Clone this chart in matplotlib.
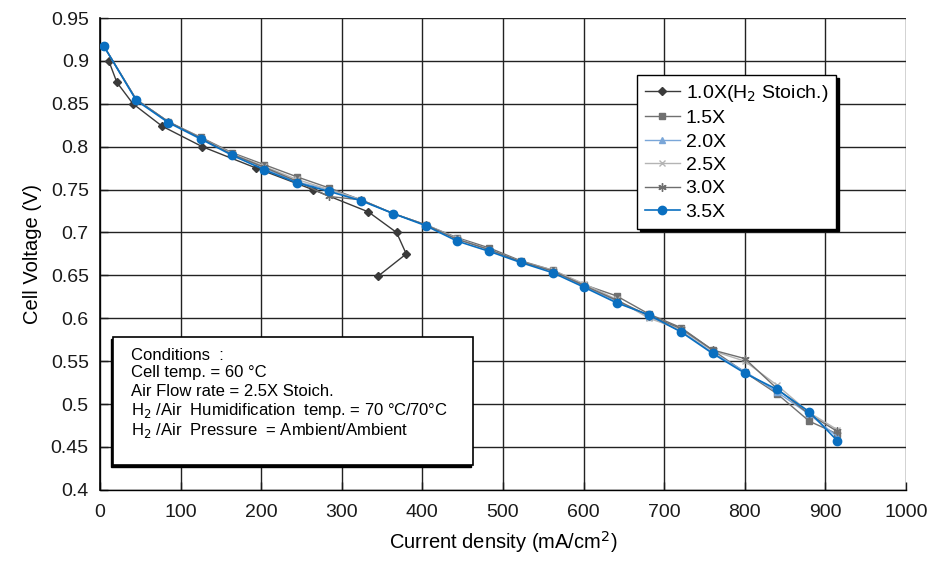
import matplotlib
matplotlib.use("Agg")
import matplotlib.pyplot as plt
from matplotlib.patches import Rectangle
from matplotlib.ticker import FuncFormatter, MultipleLocator

plt.rcParams["font.family"] = ["Liberation Sans", "DejaVu Sans"]

# 1.0X runs on its own current steps (it turns back at the end)
x_10 = [11, 21, 41, 77, 127, 194, 264, 333, 368, 380, 345]
v_10 = [0.900, 0.875, 0.850, 0.824, 0.800, 0.775, 0.750, 0.724, 0.700, 0.675, 0.649]

# common current steps for the other stoichiometries
x_all = [5, 45, 85, 125, 164, 204, 244, 284, 324, 364, 404, 443,
         483, 522, 562, 601, 641, 681, 721, 760, 800, 840, 880, 915]
v_15 = [0.917, 0.855, 0.829, 0.811, 0.793, 0.779, 0.765, 0.752, 0.738, 0.722, 0.709, 0.694,
        0.682, 0.667, 0.656, 0.639, 0.626, 0.605, 0.589, 0.563, 0.537, 0.512, 0.480, 0.465]
v_20 = [0.917, 0.855, 0.829, 0.810, 0.791, 0.775, 0.759, 0.750, 0.738, 0.722, 0.709, 0.693,
        0.680, 0.666, 0.655, 0.637, 0.620, 0.602, 0.585, 0.560, 0.538, 0.514, 0.488, 0.462]
v_25 = [0.917, 0.855, 0.829, 0.810, 0.792, 0.777, 0.762, 0.750, 0.738, 0.722, 0.709, 0.693,
        0.680, 0.666, 0.656, 0.640, 0.622, 0.600, 0.587, 0.562, 0.550, 0.522, 0.490, 0.470]
v_30 = [0.917, 0.855, 0.829, 0.810, 0.791, 0.776, 0.760, 0.742, 0.738, 0.722, 0.709, 0.692,
        0.680, 0.666, 0.655, 0.638, 0.621, 0.603, 0.588, 0.563, 0.553, 0.518, 0.488, 0.468]
v_35 = [0.917, 0.854, 0.828, 0.809, 0.790, 0.773, 0.758, 0.748, 0.737, 0.722, 0.708, 0.690,
        0.678, 0.665, 0.653, 0.636, 0.618, 0.604, 0.584, 0.559, 0.536, 0.517, 0.491, 0.457]

labels = ["1.0X(H$_2$ Stoich.)", "1.5X", "2.0X", "2.5X", "3.0X", "3.5X"]

conditions = [
    "Conditions  :",
    "Cell temp. = 60 \u00b0C",
    "Air Flow rate = 2.5X Stoich.",
    "H$_2$ /Air  Humidification  temp. = 70 \u00b0C/70\u00b0C",
    "H$_2$ /Air  Pressure  = Ambient/Ambient",
]

fig = plt.figure(figsize=(9.34, 5.63), dpi=100)
ax = fig.add_axes([0.107, 0.130, 0.863, 0.838])

ax.plot(x_10, v_10, color="#3a3a3a", lw=1.0, marker="D", ms=4, label=labels[0], zorder=3)
ax.plot(x_all, v_15, color="#707070", lw=1.0, marker="s", ms=5, label=labels[1], zorder=3)
ax.plot(x_all, v_20, color="#7aa6d8", lw=1.0, marker="^", ms=5, label=labels[2], zorder=3)
ax.plot(x_all, v_25, color="#b4b4b4", lw=1.0, marker="x", ms=5, label=labels[3], zorder=3)
ax.plot(x_all, v_30, color="#6e6e6e", lw=1.0, marker=(6, 2, 0), ms=6, label=labels[4], zorder=3)
ax.plot(x_all, v_35, color="#0a6fc0", lw=1.2, marker="o", ms=6, label=labels[5], zorder=4)

ax.set_xlim(0, 1000)
ax.set_ylim(0.4, 0.95)
ax.xaxis.set_major_locator(MultipleLocator(100))
ax.yaxis.set_major_locator(MultipleLocator(0.05))
ax.yaxis.set_major_formatter(FuncFormatter(lambda v, p: "%g" % round(v, 2)))
ax.grid(True, color="#222222", lw=1.0)
ax.set_axisbelow(True)
for s in ["top", "right"]:
    ax.spines[s].set_visible(False)
ax.spines["left"].set_linewidth(1.2)
ax.spines["bottom"].set_linewidth(1.0)
ax.tick_params(labelsize=14, length=6, width=1, direction="in", colors="#1a1a1a")
ax.tick_params(axis="y", pad=8)
ax.tick_params(axis="x", pad=10)
ax.set_xlabel("Current density (mA/cm$^2$)", fontsize=14.5, labelpad=6)
ax.set_ylabel("Cell Voltage (V)", fontsize=14.5, labelpad=6)

leg = ax.legend(loc="upper left", bbox_to_anchor=(0.682, 0.867),
                bbox_transform=fig.transFigure, fontsize=14, frameon=True,
                fancybox=False, edgecolor="black", framealpha=1,
                shadow={"color": "black", "alpha": 1}, handlelength=1.8,
                handletextpad=0.3, borderpad=0.4, labelspacing=0.3,
                borderaxespad=0)
leg.get_frame().set_linewidth(1.0)

# conditions box, with its shadow to the lower left
shadow = Rectangle((0.121 - 2 / 934, 0.174 - 2 / 563), 0.385, 0.227,
                   transform=fig.transFigure, facecolor="black",
                   edgecolor="black", lw=1.0, zorder=5)
box = Rectangle((0.121, 0.174), 0.385, 0.227, transform=fig.transFigure,
                facecolor="white", edgecolor="black", lw=1.2, zorder=5)
fig.patches.append(shadow)
fig.patches.append(box)
ys = [355, 373, 391, 410, 431]
for t, yp in zip(conditions, ys):
    fig.text(131 / 934, 1 - yp / 563, t, fontsize=12, va="center", ha="left", zorder=6)

fig.savefig("out.png", dpi=100)
